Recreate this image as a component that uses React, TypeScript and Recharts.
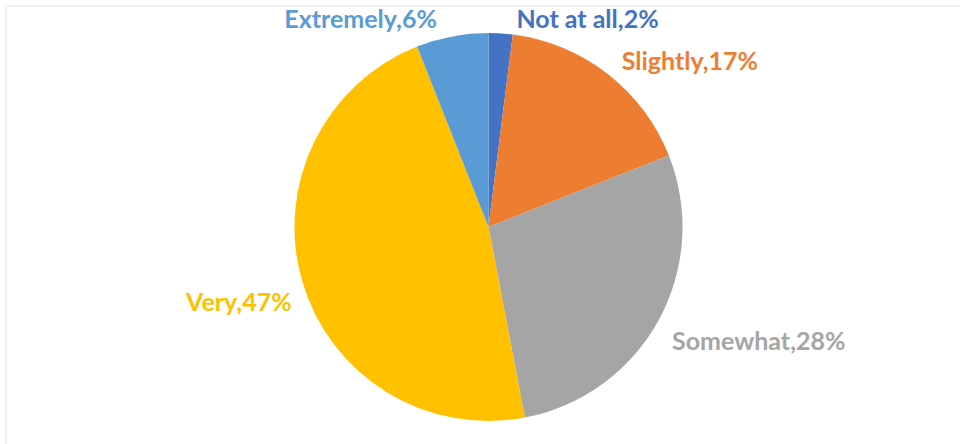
import { PieChart, Pie, Cell } from 'recharts';

const categories = ['Not at all', 'Slightly', 'Somewhat', 'Very', 'Extremely'];
const shares = [2, 17, 28, 47, 6];
const colors = ['#4472C4', '#ED7D31', '#A5A5A5', '#FFC000', '#5B9BD5'];

const data = categories.map((name, i) => ({ name, value: shares[i] }));

// excel "best fit" moves some labels off the plain radial spot
const labelNudge = [
  [15, -3],
  [7, -4],
  [3, 14],
  [1, 17],
  [-13, -7],
];

const RADIAN = Math.PI / 180;

const renderLabel = (props: any) => {
  const { cx, cy, midAngle, outerRadius, index } = props;
  const r = outerRadius + 12;
  const x0 = cx + r * Math.cos(midAngle * RADIAN);
  const y0 = cy - r * Math.sin(midAngle * RADIAN);
  const [dx, dy] = labelNudge[index];
  return (
    <text
      x={x0 + dx}
      y={y0 + dy}
      fill={colors[index]}
      textAnchor={x0 > cx ? 'start' : 'end'}
      dominantBaseline='central'
      style={{ fontFamily: 'Lato', fontWeight: 700, fontSize: 25 }}
    >
      {`${categories[index]},${shares[index]}%`}
    </text>
  );
};

const App = () => {
  return (
    <div style={{ position: 'absolute', left: 0, top: 0, width: 960, height: 444, background: '#fff' }}>
      <div
        style={{
          position: 'absolute',
          left: 5,
          top: 5,
          width: 955,
          height: 439,
          borderTop: '2px solid #f0f0f0',
          borderLeft: '2px solid #eeeeee',
        }}
      />
      <div style={{ position: 'absolute', left: 0, top: 0 }}>
        <PieChart width={960} height={444} margin={{ top: 0, right: 0, bottom: 0, left: 0 }}>
          <Pie
            data={data}
            dataKey='value'
            nameKey='name'
            cx={488.5}
            cy={227}
            outerRadius={194}
            startAngle={90}
            endAngle={-270}
            stroke='none'
            label={renderLabel}
            labelLine={false}
            isAnimationActive={false}
          >
            {data.map((d, i) => (
              <Cell key={d.name} fill={colors[i]} />
            ))}
          </Pie>
        </PieChart>
      </div>
    </div>
  );
};

export default App;
